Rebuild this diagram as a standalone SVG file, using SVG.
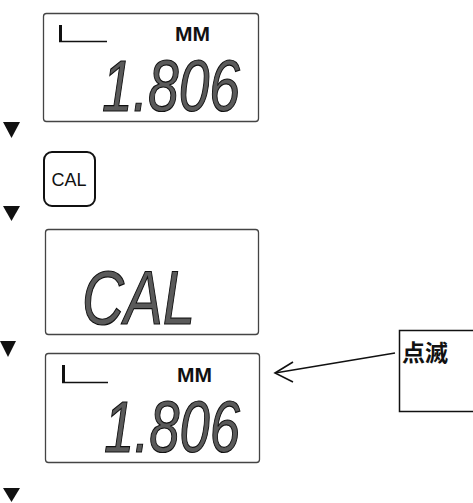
<svg xmlns="http://www.w3.org/2000/svg" width="473" height="503" viewBox="0 0 473 503">
  <style>
    .lcd { fill: #fff; stroke: #444; stroke-width: 1.3; }
    .seg { font-family: "Liberation Sans Narrow", "Liberation Sans", sans-serif; font-style: italic; fill: #5a5a5a; stroke: #111; stroke-width: 1.2; }
    .unit { font-family: "Liberation Sans", sans-serif; font-weight: bold; fill: #111; }
    .ind { stroke: #111; fill: none; }
    .step { fill: #111; }
    .btn { fill: #fff; stroke: #111; stroke-width: 2; }
    .btntext { font-family: "Liberation Sans", sans-serif; fill: #111; }
    .note { fill: #fff; stroke: #111; stroke-width: 1.5; }
    .notetext { font-family: "Noto Sans CJK JP", "Noto Sans CJK SC", sans-serif; font-weight: bold; fill: #111; }
    .conn { stroke: #111; stroke-width: 1.6; fill: none; }
  </style>

  <g id="display1">
    <rect class="lcd" x="43.5" y="13.5" width="215" height="108" rx="3"/>
    <line class="ind" x1="60.5" y1="25" x2="60.5" y2="41" stroke-width="3"/>
    <line class="ind" x1="59" y1="41.5" x2="107" y2="41.5" stroke-width="1.5"/>
    <text class="unit" x="175" y="41" font-size="21" textLength="35" lengthAdjust="spacingAndGlyphs">MM</text>
    <text class="seg" x="102" y="111" font-size="72" textLength="138" lengthAdjust="spacingAndGlyphs">1.806</text>
  </g>

  <g id="button-cal">
    <rect class="btn" x="44" y="152" width="51" height="54" rx="8"/>
    <text class="btntext" x="69" y="186" font-size="18" text-anchor="middle" textLength="35" lengthAdjust="spacingAndGlyphs">CAL</text>
  </g>

  <g id="display2">
    <rect class="lcd" x="45.5" y="229.5" width="213" height="105" rx="3"/>
    <text class="seg" x="82" y="324" font-size="76" textLength="113" lengthAdjust="spacingAndGlyphs">CAL</text>
  </g>

  <g id="display3">
    <rect class="lcd" x="45.5" y="353.5" width="214" height="109" rx="3"/>
    <line class="ind" x1="63.5" y1="365" x2="63.5" y2="382" stroke-width="3"/>
    <line class="ind" x1="62" y1="382.5" x2="108" y2="382.5" stroke-width="1.5"/>
    <text class="unit" x="177" y="382" font-size="21" textLength="35" lengthAdjust="spacingAndGlyphs">MM</text>
    <text class="seg" x="104" y="452" font-size="72" textLength="136" lengthAdjust="spacingAndGlyphs">1.806</text>
  </g>

  <g id="note-blink">
    <rect class="note" x="399.5" y="330.5" width="90" height="81"/>
    <text class="notetext" x="402" y="361" font-size="23">点滅</text>
  </g>

  <g id="connectors">
    <polygon class="step" points="3,122 20,122 11.5,138"/>
    <polygon class="step" points="3,206 20,206 11.5,221"/>
    <polygon class="step" points="0,341 16,341 8,357"/>
    <polygon class="step" points="3,488 20,488 11.5,502"/>
    <line class="conn" x1="395" y1="353" x2="275" y2="373"/>
    <polyline class="conn" points="293,362 275,373 293,382"/>
  </g>
</svg>
